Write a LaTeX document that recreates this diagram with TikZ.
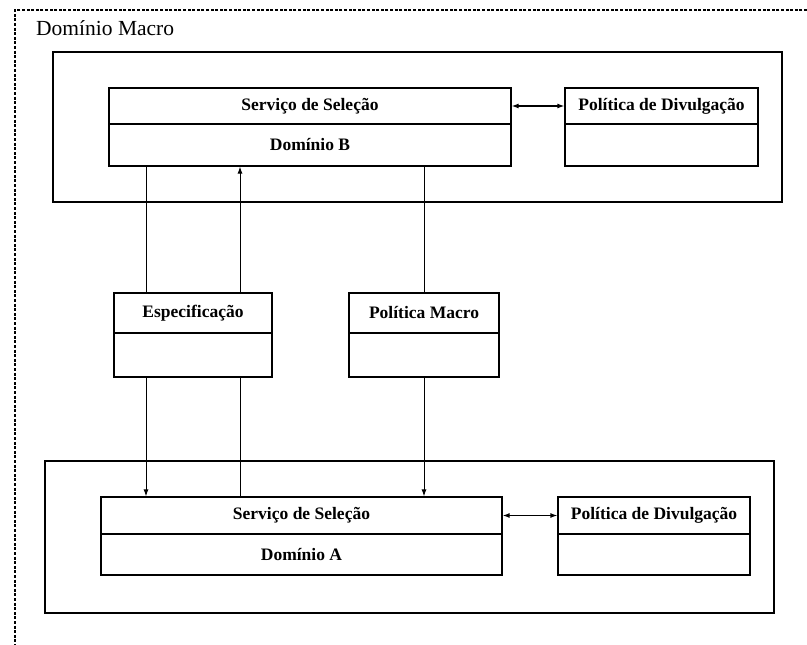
\documentclass[tikz,border=0pt]{standalone}
\usepackage{fontspec}
\setmainfont{Liberation Serif}
\usetikzlibrary{arrows.meta}

\tikzset{
  comp/.style={draw, line width=1.2pt, rectangle, inner sep=0pt,
               font=\fontsize{17.5}{19}\selectfont\bfseries},
  domainbox/.style={draw, line width=1.5pt, rectangle, inner sep=0pt},
  link/.style={line width=1pt},
  flow/.style={link, -{Latex[length=7pt,width=5pt]}},
  dualflow/.style={line width=1.2pt, {Latex[length=7pt,width=5pt]}-{Latex[length=7pt,width=5pt]}},
  frame/.style={line width=1.6pt, dash pattern=on 3pt off 1.6pt}
}

\begin{document}
\begin{tikzpicture}[x=1pt, y=-1pt]
  \useasboundingbox (0,0) rectangle (807,645);

  % macro domain frame (open on the right and at the bottom)
  \coordinate (fr1) at (807,10);
  \coordinate (fr0) at (15,10);
  \coordinate (fr2) at (15,645);
  \draw[frame] (fr1) -- (fr0) -- (fr2);
  \node[anchor=base west, inner sep=0pt, font=\fontsize{21.5}{24}\selectfont] (macro) at (36,35) {Domínio Macro};

  % domain B
  \node[domainbox, minimum width=729pt, minimum height=150pt] (domB) at (417.5,127) {};
  \node[comp, minimum width=402pt, minimum height=36pt] (selB) at (310,106) {Serviço de Seleção};
  \node[comp, minimum width=402pt, minimum height=42pt] (nameB) at (310,145) {Domínio B};
  \node[comp, minimum width=193pt, minimum height=36pt] (polB) at (661.5,106) {Política de Divulgação};
  \node[comp, minimum width=193pt, minimum height=42pt] (polBx) at (661.5,145) {};

  % shared specification and macro policy
  \node[comp, minimum width=158pt, minimum height=40pt] (spec) at (193,313) {Especificação};
  \node[comp, minimum width=158pt, minimum height=44pt] (specx) at (193,355) {};
  \node[comp, minimum width=150pt, minimum height=40pt] (pmac) at (424,313) {Política Macro};
  \node[comp, minimum width=150pt, minimum height=44pt] (pmacx) at (424,355) {};

  % domain A
  \node[domainbox, minimum width=729pt, minimum height=152pt] (domA) at (409.5,537) {};
  \node[comp, minimum width=401pt, minimum height=37pt] (selA) at (301.5,515.5) {Serviço de Seleção};
  \node[comp, minimum width=401pt, minimum height=41pt] (nameA) at (301.5,554.5) {Domínio A};
  \node[comp, minimum width=192pt, minimum height=37pt] (polA) at (654,515.5) {Política de Divulgação};
  \node[comp, minimum width=192pt, minimum height=41pt] (polAx) at (654,554.5) {};

  % connector columns
  \coordinate (colL) at (146,0);
  \coordinate (colM) at (240,0);
  \coordinate (colR) at (424,0);

  % domain B <-> specification / macro policy
  \draw[link] (nameB.south -| colL) -- (spec.north -| colL);
  \draw[flow] (spec.north -| colM) -- (nameB.south -| colM);
  \draw[link] (nameB.south -| colR) -- (pmac.north -| colR);

  % specification / macro policy -> domain A
  \draw[flow] (specx.south -| colL) -- (selA.north -| colL);
  \draw[link] (selA.north -| colM) -- (specx.south -| colM);
  \draw[flow] (pmacx.south -| colR) -- (selA.north -| colR);

  % selection service <-> disclosure policy
  \draw[dualflow] (selB.east) -- (polB.west);
  \draw[dualflow] (selA.east) -- (polA.west);
\end{tikzpicture}
\end{document}
